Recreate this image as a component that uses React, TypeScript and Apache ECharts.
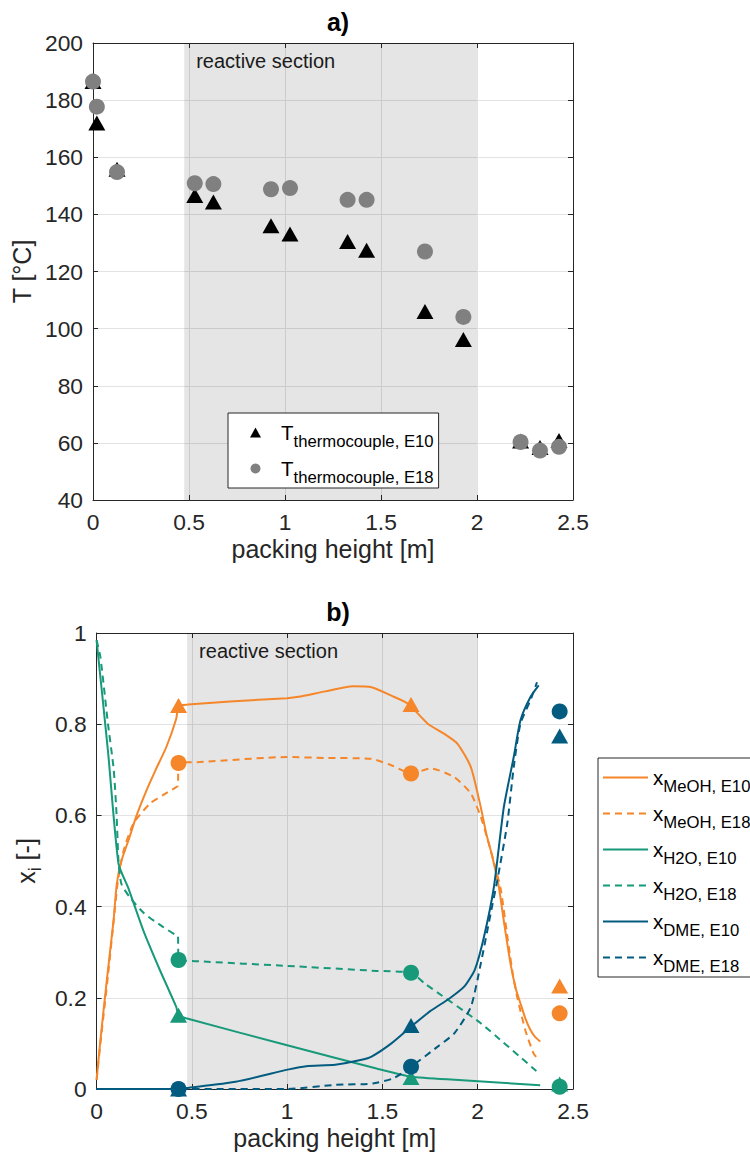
import React, { useEffect, useRef } from "react";
import * as echarts from "echarts";

const FONT = "'Liberation Sans', Arial, Helvetica, sans-serif";
const AX = "#262626";

// ---------- Panel a) thermocouple temperatures ----------
const tcHeight = [0, 0.02, 0.125, 0.53, 0.627, 0.927, 1.026, 1.326, 1.425, 1.729, 1.929, 2.227, 2.328, 2.427];
const tcTempE10 = [186.5, 172, 155.8, 146.6, 144.3, 136, 133.1, 130.5, 127.4, 106, 96.2, 60.7, 58.4, 60.8];
const tcTempE18 = [186.5, 177.7, 154.8, 150.9, 150.6, 148.8, 149.2, 145.1, 145.1, 127, 104.1, 60.3, 57.3, 58.6];

// ---------- Panel b) liquid mole fractions ----------
const meohE10: [number, number][] = [
  [0, 0.02], [0.02, 0.107], [0.054, 0.24], [0.089, 0.37], [0.106, 0.45], [0.13, 0.5], [0.167, 0.545],
  [0.21, 0.6], [0.262, 0.655], [0.31, 0.7], [0.366, 0.75], [0.418, 0.812], [0.43, 0.84], [0.48, 0.843],
  [0.7, 0.85], [1.0, 0.857], [1.06, 0.86], [1.2, 0.872], [1.347, 0.883], [1.443, 0.881], [1.55, 0.862],
  [1.634, 0.845], [1.738, 0.801], [1.82, 0.78], [1.894, 0.757], [1.964, 0.706], [2.016, 0.618],
  [2.045, 0.56], [2.077, 0.509], [2.11, 0.445], [2.14, 0.36], [2.172, 0.275], [2.2, 0.22], [2.224, 0.188],
  [2.25, 0.155], [2.276, 0.13], [2.3, 0.115], [2.328, 0.104],
];
const meohE18: [number, number][] = [
  [0, 0.02], [0.02, 0.1], [0.06, 0.25], [0.09, 0.37], [0.11, 0.45], [0.14, 0.52], [0.193, 0.582],
  [0.28, 0.626], [0.35, 0.645], [0.418, 0.662], [0.427, 0.665], [0.43, 0.715], [0.54, 0.717],
  [1.0, 0.728], [1.2, 0.726], [1.443, 0.724], [1.547, 0.71], [1.651, 0.692], [1.755, 0.703],
  [1.877, 0.684], [1.964, 0.648], [2.016, 0.597], [2.05, 0.55], [2.083, 0.5], [2.12, 0.44],
  [2.163, 0.312], [2.185, 0.25], [2.207, 0.202], [2.25, 0.129], [2.293, 0.078], [2.32, 0.064],
];
const h2oE10: [number, number][] = [
  [0, 0.984], [0.06, 0.74], [0.115, 0.494], [0.167, 0.44], [0.245, 0.348], [0.332, 0.261],
  [0.418, 0.18], [0.43, 0.162], [0.47, 0.155], [1.0, 0.096], [1.469, 0.045], [1.651, 0.027],
  [1.9, 0.02], [2.328, 0.008],
];
const h2oE18: [number, number][] = [
  [0, 0.984], [0.02, 0.947], [0.06, 0.8], [0.09, 0.7], [0.105, 0.6], [0.115, 0.5], [0.13, 0.45],
  [0.175, 0.42], [0.25, 0.385], [0.35, 0.355], [0.418, 0.337], [0.427, 0.335], [0.43, 0.285],
  [0.54, 0.28], [1.0, 0.27], [1.469, 0.259], [1.651, 0.255], [1.72, 0.232], [2.016, 0.144], [2.311, 0.038],
];
const dmeE10: [number, number][] = [
  [0, 0], [0.43, 0], [0.47, 0.002], [0.73, 0.016], [1.009, 0.043], [1.1, 0.05], [1.252, 0.053],
  [1.391, 0.064], [1.443, 0.071], [1.547, 0.1], [1.651, 0.137], [1.755, 0.172], [1.85, 0.198],
  [1.93, 0.225], [1.985, 0.262], [2.033, 0.334], [2.085, 0.443], [2.137, 0.618], [2.189, 0.728],
  [2.224, 0.808], [2.276, 0.859], [2.32, 0.885],
];
const dmeE18: [number, number][] = [
  [0, 0], [1.0, 0], [1.252, 0.009], [1.45, 0.012], [1.56, 0.024], [1.651, 0.049], [1.79, 0.093],
  [1.877, 0.122], [1.964, 0.18], [2.016, 0.275], [2.068, 0.385], [2.103, 0.458], [2.155, 0.582],
  [2.189, 0.706], [2.224, 0.801], [2.276, 0.852], [2.311, 0.892],
];

const sampleHeight = [0.43, 1.65, 2.43];
const meohSampleE10 = [0.841, 0.843, 0.226];
const meohSampleE18 = [0.715, 0.692, 0.166];
const h2oSampleE10 = [0.162, 0.025, 0.011];
const h2oSampleE18 = [0.283, 0.255, 0.005];
const dmeSampleE10 = [0.0, 0.139, 0.774];
const dmeSampleE18 = [0.0, 0.049, 0.828];

const reactiveSection = [0.475, 2.0];

const ORANGE = "#F5862A";
const TEAL = "#17997A";
const BLUE = "#035C80";

const zip = (xs: number[], ys: number[]) => xs.map((x, i) => [x, ys[i]]);

function buildOption() {
  const xAx = (gridIndex: number) => [
    {
      type: "value", gridIndex, min: 0, max: 2.5, interval: 0.5, position: "bottom",
      name: "packing height [m]", nameLocation: "middle", nameGap: 36,
      nameTextStyle: { fontSize: 25, color: AX, fontFamily: FONT },
      axisLine: { onZero: false, lineStyle: { color: AX, width: 1 } },
      axisTick: { inside: true, length: 5, lineStyle: { color: AX } },
      axisLabel: { fontSize: 22.8, color: AX, margin: 10, fontFamily: FONT },
      splitLine: { show: true, lineStyle: { color: "#e3e3e3", width: 1 } },
    },
    {
      type: "value", gridIndex, min: 0, max: 2.5, interval: 0.5, position: "top",
      axisLine: { onZero: false, lineStyle: { color: AX, width: 1 } },
      axisTick: { inside: true, length: 5, lineStyle: { color: AX } },
      axisLabel: { show: false }, splitLine: { show: false },
    },
  ];
  const yAx = (gridIndex: number, min: number, max: number, interval: number, name: string, nameGap: number, rich?: any) => [
    {
      type: "value", gridIndex, min, max, interval, position: "left",
      name, nameLocation: "middle", nameGap,
      nameTextStyle: { fontSize: 25, color: AX, fontFamily: FONT, rich },
      axisLine: { show: true, onZero: false, lineStyle: { color: AX, width: 1 } },
      axisTick: { show: true, inside: true, length: 5, lineStyle: { color: AX } },
      axisLabel: { fontSize: 22.8, color: AX, margin: 10, fontFamily: FONT },
      splitLine: { show: true, lineStyle: { color: "#e3e3e3", width: 1 } },
    },
    {
      type: "value", gridIndex, min, max, interval, position: "right",
      axisLine: { show: true, onZero: false, lineStyle: { color: AX, width: 1 } },
      axisTick: { show: true, inside: true, length: 5, lineStyle: { color: AX } },
      axisLabel: { show: false }, splitLine: { show: false },
    },
  ];

  const shade = (xi: number, yi: number) => ({
    type: "line", name: "reactive section " + xi, xAxisIndex: xi, yAxisIndex: yi, data: [], silent: true,
    markArea: {
      silent: true,
      itemStyle: { color: "rgba(0,0,0,0.1)" },
      label: {
        show: true, position: "insideTopLeft", distance: 0, offset: [12, 8],
        fontSize: 20, color: "#1a1a1a", fontFamily: FONT,
      },
      data: [[{ name: "reactive section", xAxis: reactiveSection[0] }, { xAxis: reactiveSection[1] }]],
    },
  });

  const dash = [7, 5];
  const lineS = (name: string, data: any, color: string, dashed: boolean) => ({
    type: "line", name, xAxisIndex: 2, yAxisIndex: 2, data, symbol: "none", showSymbol: false,
    smooth: 0.2, color, lineStyle: { color, width: 2, type: dashed ? dash : "solid" }, z: 3,
  });
  const markS = (name: string, ys: number[], color: string, tri: boolean) => ({
    type: "scatter", name, xAxisIndex: 2, yAxisIndex: 2, data: zip(sampleHeight, ys),
    symbol: tri ? "triangle" : "circle", symbolSize: tri ? [17, 15] : 16,
    itemStyle: { color, opacity: 1 }, z: tri ? 4 : 5,
  });

  const richSub = (mPad: number) => ({
    m: { fontSize: 20.5, lineHeight: 36, fontFamily: FONT, color: "#000", padding: [0, 0, 0, mPad] },
    s: { fontSize: 16.7, lineHeight: 18, fontFamily: FONT, color: "#000", padding: [18, 0, 0, 0] },
  });
  const subFmt = (name: string) => {
    const i = name.indexOf("_");
    return `{m|${name.slice(0, i)}}{s|${name.slice(i + 1)}}`;
  };

  return {
    animation: false,
    backgroundColor: "#fff",
    title: [
      { text: "a)", left: 333, top: 4, textAlign: "center", textStyle: { fontSize: 25, fontWeight: "bold", color: "#000", fontFamily: FONT } },
      { text: "b)", left: 333, top: 594, textAlign: "center", textStyle: { fontSize: 25, fontWeight: "bold", color: "#000", fontFamily: FONT } },
    ],
    grid: [
      { left: 93, top: 43, width: 480, height: 457 },
      { left: 93, top: 633, width: 480, height: 456 },
    ],
    xAxis: [...xAx(0), ...xAx(1)],
    yAxis: [
      ...yAx(0, 40, 200, 20, "T [°C]", 48),
      ...yAx(1, 0, 1, 0.2, "{a|x}{b|i}{a| [-]}", 46, {
        a: { fontSize: 25, lineHeight: 34, color: AX, fontFamily: FONT },
        b: { fontSize: 18, lineHeight: 18, color: AX, fontFamily: FONT, padding: [18, 0, 0, 0] },
      }),
    ],
    legend: [
      {
        data: ["T_thermocouple, E10", "T_thermocouple, E18"],
        orient: "vertical", left: 228, top: 413, itemWidth: 11, itemHeight: 10, itemGap: 1,
        padding: [2, 5, 2, 22], backgroundColor: "#fff", borderColor: AX, borderWidth: 1,
        itemStyle: { opacity: 1 },
        formatter: subFmt, textStyle: { fontFamily: FONT, rich: richSub(15) }, selectedMode: false,
      },
      {
        data: ["x_MeOH, E10", "x_MeOH, E18", "x_H2O, E10", "x_H2O, E18", "x_DME, E10", "x_DME, E18"],
        orient: "vertical", left: 598, top: 758, itemWidth: 45, itemHeight: 14, itemGap: 1,
        padding: [2, 60, 2, 4], backgroundColor: "#fff", borderColor: AX, borderWidth: 1,
        itemStyle: { opacity: 0, borderWidth: 0 },
        formatter: subFmt, textStyle: { fontFamily: FONT, rich: richSub(0) }, selectedMode: false,
      },
    ],
    series: [
      shade(0, 0),
      {
        type: "scatter", name: "T_thermocouple, E10", xAxisIndex: 0, yAxisIndex: 0,
        data: zip(tcHeight, tcTempE10), symbol: "triangle", symbolSize: [17, 15],
        itemStyle: { color: "#000", opacity: 1 }, z: 3,
      },
      {
        type: "scatter", name: "T_thermocouple, E18", xAxisIndex: 0, yAxisIndex: 0,
        data: zip(tcHeight, tcTempE18), symbol: "circle", symbolSize: 16,
        itemStyle: { color: "#808080", opacity: 1 }, z: 4,
      },
      shade(2, 2),
      lineS("x_MeOH, E10", meohE10, ORANGE, false),
      lineS("x_MeOH, E18", meohE18, ORANGE, true),
      lineS("x_H2O, E10", h2oE10, TEAL, false),
      lineS("x_H2O, E18", h2oE18, TEAL, true),
      lineS("x_DME, E10", dmeE10, BLUE, false),
      lineS("x_DME, E18", dmeE18, BLUE, true),
      markS("MeOH sample E10", meohSampleE10, ORANGE, true),
      markS("H2O sample E10", h2oSampleE10, TEAL, true),
      markS("DME sample E10", dmeSampleE10, BLUE, true),
      markS("MeOH sample E18", meohSampleE18, ORANGE, false),
      markS("H2O sample E18", h2oSampleE18, TEAL, false),
      markS("DME sample E18", dmeSampleE18, BLUE, false),
    ],
  };
}

export default function App() {
  const ref = useRef<HTMLDivElement>(null);
  useEffect(() => {
    if (!ref.current) return;
    const chart = echarts.init(ref.current, undefined, { renderer: "svg" });
    chart.setOption(buildOption() as any);
    return () => chart.dispose();
  }, []);
  return (
    <div
      ref={ref}
      style={{ position: "absolute", left: 0, top: 0, width: 750, height: 1161, background: "#fff" }}
    />
  );
}
